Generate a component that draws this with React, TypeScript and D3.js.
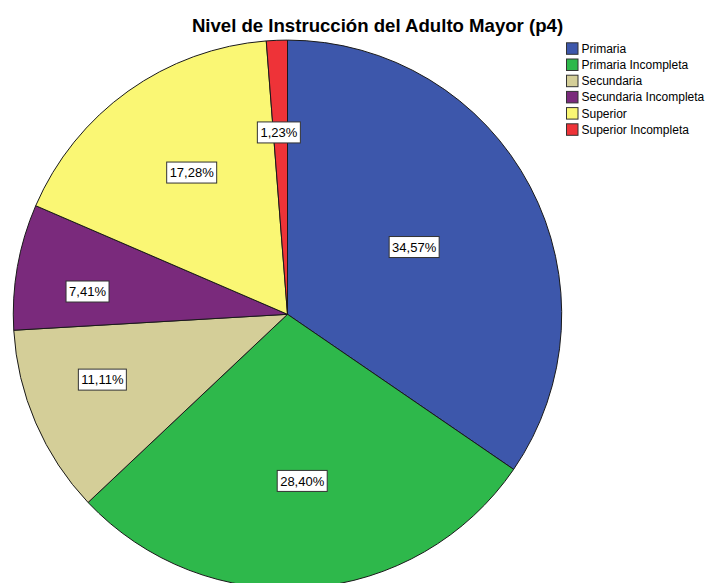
import React, { useEffect, useRef } from "react";
import * as d3 from "d3";

const categories = [
  "Primaria",
  "Primaria Incompleta",
  "Secundaria",
  "Secundaria Incompleta",
  "Superior",
  "Superior Incompleta",
];
const counts = [28, 23, 9, 6, 14, 1];
const percentLabels = ["34,57%", "28,40%", "11,11%", "7,41%", "17,28%", "1,23%"];
const colors = ["#3D57AB", "#2EB84B", "#D4CE98", "#7A2A7C", "#FAF774", "#EE3338"];
const title = "Nivel de Instrucción del Adulto Mayor (p4)";

// label placement tweaks (radius fraction, angle nudge in degrees)
const labelRadius = [0.523, 0.61, 0.716, 0.734, 0.624, 0.664];
const labelAngleNudge = [-0.2, -0.6, 3.9, -3.5, 1.5, -0.5];

const W = 711;
const H = 583;
const CX = 287.5;
const CY = 314.3;
const R = 274.2;

export default function App() {
  const ref = useRef<SVGSVGElement | null>(null);

  useEffect(() => {
    const svg = d3.select(ref.current);
    svg.selectAll("*").remove();

    svg
      .append("rect")
      .attr("width", W)
      .attr("height", H)
      .attr("fill", "#ffffff");

    svg
      .append("text")
      .attr("x", 377.5)
      .attr("y", 31.5)
      .attr("text-anchor", "middle")
      .attr("font-family", "Liberation Sans, Arial, sans-serif")
      .attr("font-weight", "bold")
      .attr("font-size", 18.6)
      .attr("fill", "#000")
      .text(title);

    const pie = d3
      .pie<number>()
      .sort(null)
      .value((d) => d)
      .startAngle(0)
      .endAngle(2 * Math.PI);
    const arcs = pie(counts);
    const arc = d3.arc<d3.PieArcDatum<number>>().innerRadius(0).outerRadius(R);

    const g = svg.append("g").attr("transform", `translate(${CX},${CY})`);
    g.selectAll("path.slice")
      .data(arcs)
      .enter()
      .append("path")
      .attr("class", "slice")
      .attr("d", (d) => arc(d) as string)
      .attr("fill", (_d, i) => colors[i])
      .attr("stroke", "#1a1a1a")
      .attr("stroke-width", 1)
      .attr("stroke-linejoin", "round");

    const lg = g.append("g");
    arcs.forEach((d, i) => {
      const mid = (d.startAngle + d.endAngle) / 2 + (labelAngleNudge[i] * Math.PI) / 180;
      const r = labelRadius[i] * R;
      const x = Math.sin(mid) * r;
      const y = -Math.cos(mid) * r;
      const grp = lg.append("g").attr("transform", `translate(${x},${y})`);
      const rect = grp.append("rect");
      const t = grp
        .append("text")
        .attr("x", 0)
        .attr("y", 4.7)
        .attr("text-anchor", "middle")
        .attr("font-family", "Liberation Sans, Arial, sans-serif")
        .attr("font-size", 13)
        .attr("fill", "#000")
        .text(percentLabels[i]);
      const tw = (t.node() as SVGTextElement).getComputedTextLength();
      const bw = Math.round(tw + 6);
      const bh = 21;
      rect
        .attr("x", -bw / 2)
        .attr("y", -bh / 2)
        .attr("width", bw)
        .attr("height", bh)
        .attr("fill", "#ffffff")
        .attr("stroke", "#333333")
        .attr("stroke-width", 1);
    });

    const legend = svg.append("g").attr("transform", "translate(566,42.3)");
    const y = d3
      .scaleBand<string>()
      .domain(categories)
      .range([0, 16.2 * categories.length]);
    categories.forEach((c, i) => {
      const row = legend.append("g").attr("transform", `translate(0,${y(c)})`);
      row
        .append("rect")
        .attr("x", 0.5)
        .attr("y", 0.5)
        .attr("width", 11.5)
        .attr("height", 11.5)
        .attr("fill", colors[i])
        .attr("stroke", "#333333")
        .attr("stroke-width", 1);
      row
        .append("text")
        .attr("x", 15.5)
        .attr("y", 10.5)
        .attr("font-family", "Liberation Sans, Arial, sans-serif")
        .attr("font-size", 12)
        .attr("fill", "#000")
        .text(c);
    });
  }, []);

  return (
    <svg
      ref={ref}
      width={W}
      height={H}
      style={{ position: "absolute", left: 0, top: 0, display: "block" }}
    />
  );
}
